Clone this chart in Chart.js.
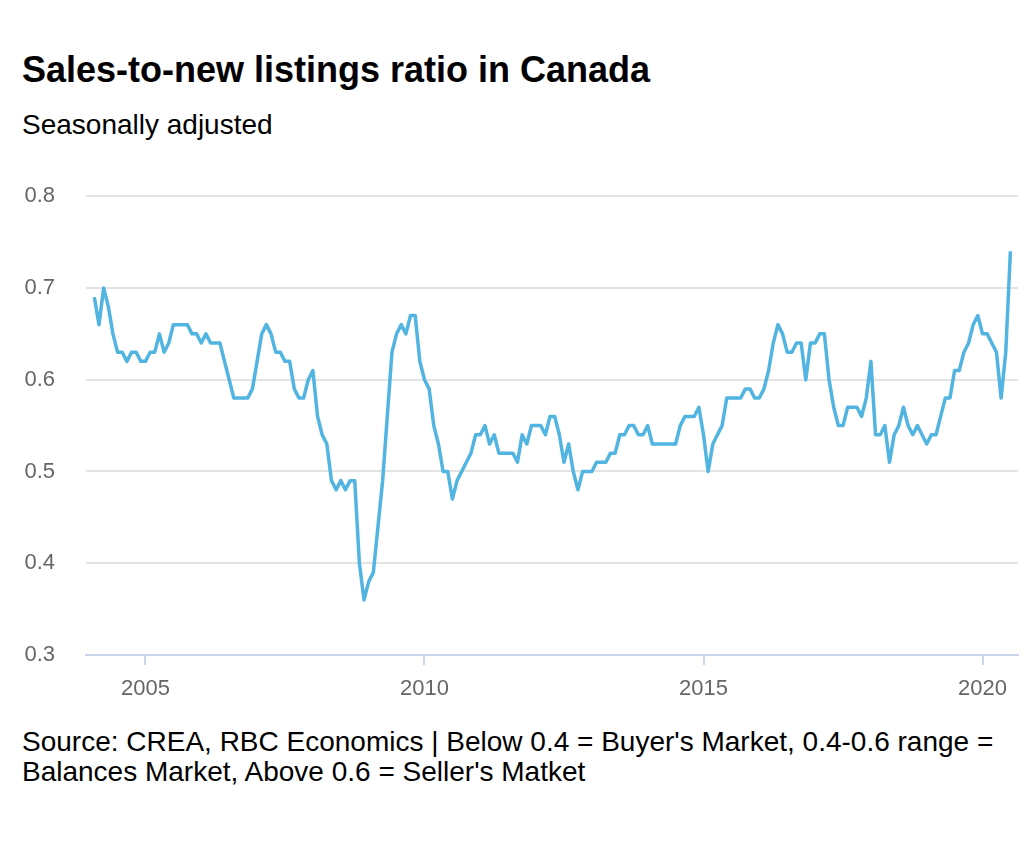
<!DOCTYPE html>
<html>
<head>
<meta charset="utf-8">
<script src="https://cdn.jsdelivr.net/npm/chart.js@4/dist/chart.umd.min.js"></script>
<style>
  html, body { margin: 0; padding: 0; background: #ffffff; }
  body { width: 1036px; height: 852px; position: relative; overflow: hidden; font-family: "Liberation Sans", Arial, sans-serif; color: #000; }
  #title { position: absolute; left: 22px; top: 52px; font-size: 36px; line-height: 36px; font-weight: bold; white-space: nowrap; }
  #subtitle { position: absolute; left: 22px; top: 111px; font-size: 28px; line-height: 28px; white-space: nowrap; }
  #source { position: absolute; left: 22px; top: 727px; width: 1012px; font-size: 28px; line-height: 30px; }
  #wrap { position: absolute; left: 0; top: 152px; width: 1036px; height: 560px; }
</style>
</head>
<body>
<div id="title">Sales-to-new listings ratio in Canada</div>
<div id="subtitle">Seasonally adjusted</div>
<div id="wrap"><canvas id="c" width="1036" height="560"></canvas></div>
<div id="source">Source: CREA, RBC Economics | Below 0.4 = Buyer's Market, 0.4-0.6 range = Balances Market, Above 0.6 = Seller's Matket</div>
<script>
// First observation: February 2004, monthly thereafter
const startYear = 2004;
const startMonth = 2;
const ratio = [
  0.69,0.66,0.70,0.68,0.65,0.63,0.63,0.62,0.63,0.63,0.62,
  0.62,0.63,0.63,0.65,0.63,0.64,0.66,0.66,0.66,0.66,0.65,0.65,
  0.64,0.65,0.64,0.64,0.64,0.62,0.60,0.58,0.58,0.58,0.58,0.59,
  0.62,0.65,0.66,0.65,0.63,0.63,0.62,0.62,0.59,0.58,0.58,0.60,
  0.61,0.56,0.54,0.53,0.49,0.48,0.49,0.48,0.49,0.49,0.40,0.36,
  0.38,0.39,0.44,0.49,0.56,0.63,0.65,0.66,0.65,0.67,0.67,0.62,
  0.60,0.59,0.55,0.53,0.50,0.50,0.47,0.49,0.50,0.51,0.52,0.54,
  0.54,0.55,0.53,0.54,0.52,0.52,0.52,0.52,0.51,0.54,0.53,0.55,
  0.55,0.55,0.54,0.56,0.56,0.54,0.51,0.53,0.50,0.48,0.50,0.50,
  0.50,0.51,0.51,0.51,0.52,0.52,0.54,0.54,0.55,0.55,0.54,0.54,
  0.55,0.53,0.53,0.53,0.53,0.53,0.53,0.55,0.56,0.56,0.56,0.57,
  0.54,0.50,0.53,0.54,0.55,0.58,0.58,0.58,0.58,0.59,0.59,0.58,
  0.58,0.59,0.61,0.64,0.66,0.65,0.63,0.63,0.64,0.64,0.60,0.64,
  0.64,0.65,0.65,0.60,0.57,0.55,0.55,0.57,0.57,0.57,0.56,0.58,
  0.62,0.54,0.54,0.55,0.51,0.54,0.55,0.57,0.55,0.54,0.55,0.54,
  0.53,0.54,0.54,0.56,0.58,0.58,0.61,0.61,0.63,0.64,0.66,0.67,
  0.65,0.65,0.64,0.63,0.58,0.63,0.74
];
const xTickYears = [2005, 2010, 2015, 2020];
const yTickValues = [0.3, 0.4, 0.5, 0.6, 0.7, 0.8];

const points = ratio.map((v, i) => ({ x: startYear + (startMonth - 1 + i) / 12, y: v }));

const tickFont = { family: "'Liberation Sans', Arial, sans-serif", size: 22 };

new Chart(document.getElementById('c'), {
  type: 'line',
  data: {
    datasets: [{
      data: points,
      borderColor: '#52b4e0',
      borderWidth: 3.5,
      pointRadius: 0,
      tension: 0,
      fill: false,
      borderJoinStyle: 'round'
    }]
  },
  options: {
    responsive: false,
    animation: false,
    layout: { padding: { top: 27, right: 18, left: 0, bottom: 0 } },
    plugins: { legend: { display: false }, tooltip: { enabled: false } },
    scales: {
      x: {
        type: 'linear',
        min: 2003.934,
        max: 2020.636,
        afterBuildTicks: s => { s.ticks = xTickYears.map(v => ({ value: v })); },
        afterFit: s => { s.height = 57; },
        ticks: { callback: v => String(v), color: '#666666', font: tickFont, padding: 11, maxRotation: 0, autoSkip: false },
        grid: { drawOnChartArea: false, drawTicks: true, tickLength: 10, color: '#ccd6eb', lineWidth: 2 },
        border: { display: true, color: '#ccd6eb', width: 2 }
      },
      y: {
        min: 0.3,
        max: 0.8,
        afterBuildTicks: s => { s.ticks = yTickValues.map(v => ({ value: v })); },
        afterFit: s => { s.width = 86; },
        ticks: { callback: v => v.toFixed(1), color: '#666666', font: tickFont, padding: 31 },
        grid: { drawTicks: false, lineWidth: 2, color: c => (c.tick && Math.abs(c.tick.value - 0.3) < 1e-6) ? 'rgba(0,0,0,0)' : '#e3e3e3' },
        border: { display: false }
      }
    }
  }
});
</script>
</body>
</html>
